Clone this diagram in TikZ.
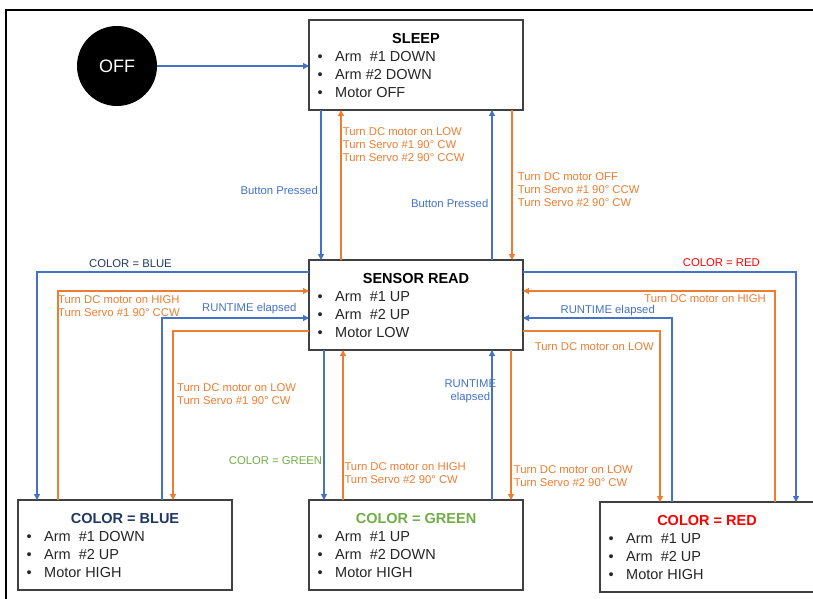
\documentclass[tikz,border=0pt]{standalone}
\usepackage{fontspec}
\setmainfont{Liberation Sans}
\usetikzlibrary{arrows.meta}
\definecolor{cblue}{HTML}{4472C4}
\definecolor{corange}{HTML}{ED7D31}
\definecolor{cgreen}{HTML}{70AD47}
\definecolor{cred}{HTML}{FF0000}
\definecolor{cnavy}{HTML}{1F3864}
\definecolor{cbox}{HTML}{404040}
\tikzset{
  statebox/.style={draw=cbox, line width=1.3pt, fill=white, minimum width=214pt, minimum height=90pt, inner sep=0pt, outer sep=0pt},
  ttl/.style={font=\fontsize{14.5}{17}\selectfont\bfseries, inner sep=0pt, anchor=base},
  itm/.style={font=\fontsize{14.5}{17}\selectfont, text=black!85, inner sep=0pt, anchor=base west},
  lbl/.style={font=\fontsize{11.3}{13}\selectfont, inner sep=0pt, align=left},
  lblb/.style={lbl, text=cblue},
  lblo/.style={lbl, text=corange},
  bl/.style={draw=cblue, line width=1.2pt, -{Triangle[length=6pt,width=6pt]}},
  orr/.style={draw=corange, line width=1.2pt, -{Triangle[length=6pt,width=6pt]}},
}
\newcommand{\mkstate}[8]{%
  \node[statebox] (#1) at ({#2+107},{#3+45}) {};
  \node[ttl, text=#5] (#1t) at ({#2+107},{#3+23.3}) {#4};
  \node[itm] (#1b1) at ({#2+8.5},{#3+41.3}) {•};
  \node[itm] (#1i1) at ({#2+26},{#3+41.3}) {#6};
  \node[itm] (#1b2) at ({#2+8.5},{#3+59.3}) {•};
  \node[itm] (#1i2) at ({#2+26},{#3+59.3}) {#7};
  \node[itm] (#1b3) at ({#2+8.5},{#3+77.3}) {•};
  \node[itm] (#1i3) at ({#2+26},{#3+77.3}) {#8};
}
\begin{document}
\begin{tikzpicture}[x=1pt, y=-1pt]
\useasboundingbox (0,0) rectangle (813,599);
\clip (0,0) rectangle (813,599);
\fill[white] (0,0) rectangle (813,599);
\draw[black, line width=2pt] (6,600) -- (6,10) -- (814,10);

% OFF node
\node[circle, fill=black, minimum size=80pt, inner sep=0pt, text=white, font=\fontsize{18}{20}\selectfont] (off) at (117,66) {OFF};

% states
\mkstate{sleep}{309}{20}{SLEEP}{black}{Arm\ \ \#1 DOWN}{Arm \#2 DOWN}{Motor OFF}
\mkstate{sensor}{309}{260}{SENSOR READ}{black}{Arm\ \ \#1 UP}{Arm\ \ \#2 UP}{Motor LOW}
\mkstate{blue}{18}{500}{COLOR = BLUE}{cnavy}{Arm\ \ \#1 DOWN}{Arm\ \ \#2 UP}{Motor HIGH}
\mkstate{green}{309}{500}{COLOR = GREEN}{cgreen}{Arm\ \ \#1 UP}{Arm\ \ \#2 DOWN}{Motor HIGH}
\mkstate{red}{600}{502}{COLOR = RED}{cred}{Arm\ \ \#1 UP}{Arm\ \ \#2 UP}{Motor HIGH}

% OFF -> SLEEP
\draw[bl] (off) -- (sleep.west |- off);

% SLEEP <-> SENSOR
\draw[bl] (sleep.south -| 321,0) -- (sensor.north -| 321,0);
\draw[orr] (sensor.north -| 341,0) -- (sleep.south -| 341,0);
\draw[bl] (sensor.north -| 492,0) -- (sleep.south -| 492,0);
\draw[orr] (sleep.south -| 512,0) -- (sensor.north -| 512,0);

% SENSOR <-> BLUE
\draw[bl] (sensor.west |- 0,272) -| (blue.north -| 37,0);
\draw[orr] (blue.north -| 58,0) |- (sensor.west |- 0,291);
\draw[bl] (blue.north -| 162,0) |- (sensor.west |- 0,318);
\draw[orr] (sensor.west |- 0,331) -| (blue.north -| 173,0);

% SENSOR <-> RED
\draw[bl] (sensor.east |- 0,272) -| (red.north -| 796,0);
\draw[orr] (red.north -| 775,0) |- (sensor.east |- 0,291);
\draw[bl] (red.north -| 672,0) |- (sensor.east |- 0,318);
\draw[orr] (sensor.east |- 0,331) -| (red.north -| 660,0);

% SENSOR <-> GREEN
\draw[bl] (sensor.south -| 324,0) -- (green.north -| 324,0);
\draw[orr] (green.north -| 343,0) -- (sensor.south -| 343,0);
\draw[bl] (green.north -| 492,0) -- (sensor.south -| 492,0);
\draw[orr] (sensor.south -| 511,0) -- (green.north -| 511,0);

% labels
\node[lblb, anchor=base east] (l1) at (318,194.6) {Button Pressed};
\node[lblo, anchor=north west] (l2) at (342.7,127.7) {Turn DC motor on LOW\\Turn Servo \#1 90° CW\\Turn Servo \#2 90° CCW};
\node[lblb, anchor=base east] (l3) at (488.5,207.9) {Button Pressed};
\node[lblo, anchor=north west] (l4) at (517.7,172) {Turn DC motor OFF\\Turn Servo \#1 90° CCW\\Turn Servo \#2 90° CW};

\node[lbl, text=cnavy, anchor=base west] (l5) at (89,267.9) {COLOR = BLUE};
\node[lblo, anchor=north west] (l6) at (58,295.3) {Turn DC motor on HIGH\\Turn Servo \#1 90° CCW};
\node[lblb, anchor=base west] (l7) at (202,311.2) {RUNTIME elapsed};
\node[lblo, anchor=north west] (l8) at (177,383.7) {Turn DC motor on LOW\\Turn Servo \#1 90° CW};

\node[lbl, text=cred, anchor=base west] (l9) at (682.7,266.6) {COLOR = RED};
\node[lblo, anchor=base east] (l10) at (766,302.2) {Turn DC motor on HIGH};
\node[lblb, anchor=base east] (l11) at (655,313.2) {RUNTIME elapsed};
\node[lblo, anchor=base east] (l12) at (654,350.6) {Turn DC motor on LOW};

\node[lbl, text=cgreen, anchor=base east] (l13) at (322.3,464.6) {COLOR = GREEN};
\node[lblo, anchor=north west] (l14) at (344.3,462) {Turn DC motor on HIGH\\Turn Servo \#2 90° CW};
\node[lblb, align=center, anchor=north] (l15) at (470.3,380) {RUNTIME\\elapsed};
\node[lblo, anchor=north west] (l16) at (513.7,465) {Turn DC motor on LOW\\Turn Servo \#2 90° CW};
\end{tikzpicture}
\end{document}
